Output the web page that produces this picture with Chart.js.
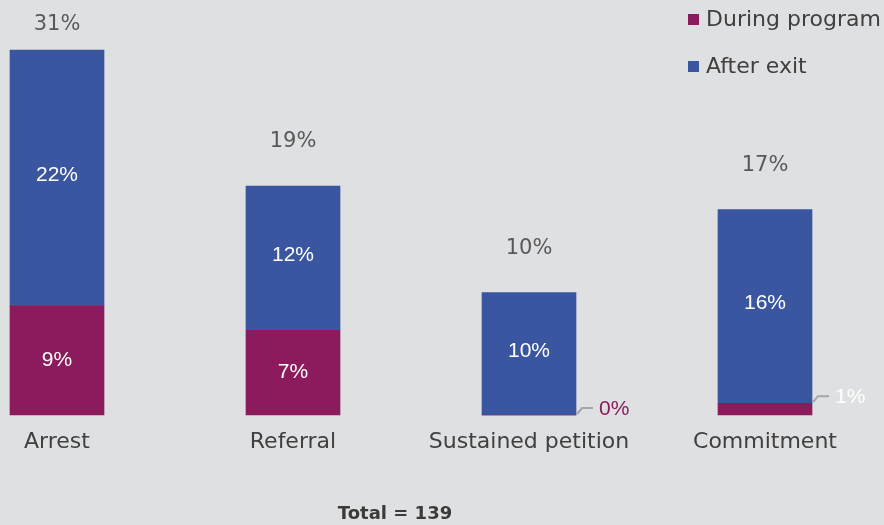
<!DOCTYPE html>
<html>
<head>
<meta charset="utf-8">
<script src="https://cdn.jsdelivr.net/npm/chart.js@4"></script>
<style>
    html, body { margin: 0; padding: 0; background: #dfe0e2; }
    #wrap { width: 884px; height: 525px; position: relative; }
</style>
</head>
<body>
<div id="wrap"><canvas id="chart"></canvas></div>
<script>
// ===================================
// DATA
// ===================================

const categories = ['Arrest', 'Referral', 'Sustained petition', 'Commitment'];
const duringProgram = [9.3, 7.2, 0, 1.0];
const afterExit = [21.7, 12.25, 10.4, 16.45];
const seriesNames = ['During program', 'After exit'];
const totalText = 'Total = 139';

// ===================================
// STYLE
// ===================================

const MAGENTA = '#8b1b5d';
const BLUE = '#3a56a0';
const TEXT_GRAY = '#404040';
const BASE_FONT = '"DejaVu Sans", sans-serif';
const INNER_FONT = '"Liberation Sans", Arial, sans-serif';

function pct(v) {
    return Math.round(v) + '%';
}

// labels inside bars, totals on top, callouts for tiny segments, legend
const labelPlugin = {
    id: 'barLabels',
    afterDatasetsDraw(chart) {
        const ctx = chart.ctx;
        const during = chart.getDatasetMeta(0).data;
        const after = chart.getDatasetMeta(1).data;

        ctx.save();
        ctx.textBaseline = 'middle';

        categories.forEach((cat, i) => {
            const dBar = during[i];
            const aBar = after[i];
            const dVal = duringProgram[i];
            const aVal = afterExit[i];

            // inside labels
            ctx.font = '21px ' + INNER_FONT;
            ctx.textAlign = 'center';
            ctx.fillStyle = '#ffffff';
            if (dVal >= 3) {
                ctx.fillText(pct(dVal), dBar.x, (dBar.y + dBar.base) / 2);
            } else {
                // little callout to the right of the bar bottom
                const right = dBar.x + dBar.width / 2;
                const y0 = dBar.y;
                ctx.strokeStyle = '#a6a6a6';
                ctx.lineWidth = 2;
                ctx.beginPath();
                ctx.moveTo(right + 1, y0 - 1);
                ctx.lineTo(right + 6, y0 - 7);
                ctx.lineTo(right + 17, y0 - 7);
                ctx.stroke();
                ctx.textAlign = 'left';
                ctx.fillStyle = dVal === 0 ? MAGENTA : '#ffffff';
                ctx.fillText(pct(dVal), right + 23, y0 - 6);
            }
            ctx.textAlign = 'center';
            ctx.fillStyle = '#ffffff';
            ctx.fillText(pct(aVal), aBar.x, (aBar.y + aBar.base) / 2 - 3);

            // totals above
            ctx.font = '21px ' + BASE_FONT;
            ctx.fillStyle = '#595959';
            const ty = Math.max(aBar.y - 44, 25);
            ctx.fillText(pct(dVal + aVal), aBar.x, ty);
        });

        // legend, top right
        const colors = [MAGENTA, BLUE];
        const lx = chart.width - 196;
        ctx.font = '22px ' + BASE_FONT;
        ctx.textAlign = 'left';
        seriesNames.forEach((name, k) => {
            const ly = 20 + k * 47;
            ctx.fillStyle = colors[k];
            ctx.fillRect(lx, ly - 6, 11, 11);
            ctx.fillStyle = TEXT_GRAY;
            ctx.fillText(name, lx + 18, ly);
        });

        // total note under the axis
        const area = chart.chartArea;
        ctx.font = 'bold 18px ' + BASE_FONT;
        ctx.textAlign = 'center';
        ctx.fillStyle = '#3a3a3a';
        ctx.fillText(totalText, (area.left + area.right) / 2 - 16, chart.height - 11);

        ctx.restore();
    }
};

// ===================================
// CHART
// ===================================

const chart = new Chart(document.getElementById('chart'), {
    type: 'bar',
    data: {
        labels: categories,
        datasets: [{
            label: seriesNames[0],
            data: duringProgram,
            backgroundColor: MAGENTA,
            barThickness: 94,
            clip: false
        }, {
            label: seriesNames[1],
            data: afterExit,
            backgroundColor: BLUE,
            barThickness: 94,
            clip: false
        }]
    },
    options: {
        responsive: true,
        maintainAspectRatio: false,
        animation: false,
        devicePixelRatio: 1,
        layout: { padding: { left: 57, right: 119, top: 50, bottom: 0 } },
        plugins: {
            legend: { display: false },
            tooltip: { enabled: false }
        },
        scales: {
            x: {
                stacked: true,
                offset: false,
                grid: { display: false, drawTicks: false },
                border: { display: false },
                ticks: {
                    color: TEXT_GRAY,
                    font: { family: BASE_FONT, size: 22 },
                    padding: 14,
                    maxRotation: 0,
                    autoSkip: false
                },
                afterFit(scale) { scale.height = 110; }
            },
            y: {
                stacked: true,
                display: false,
                min: 0,
                max: 31
            }
        }
    },
    plugins: [labelPlugin]
});
</script>
</body>
</html>
